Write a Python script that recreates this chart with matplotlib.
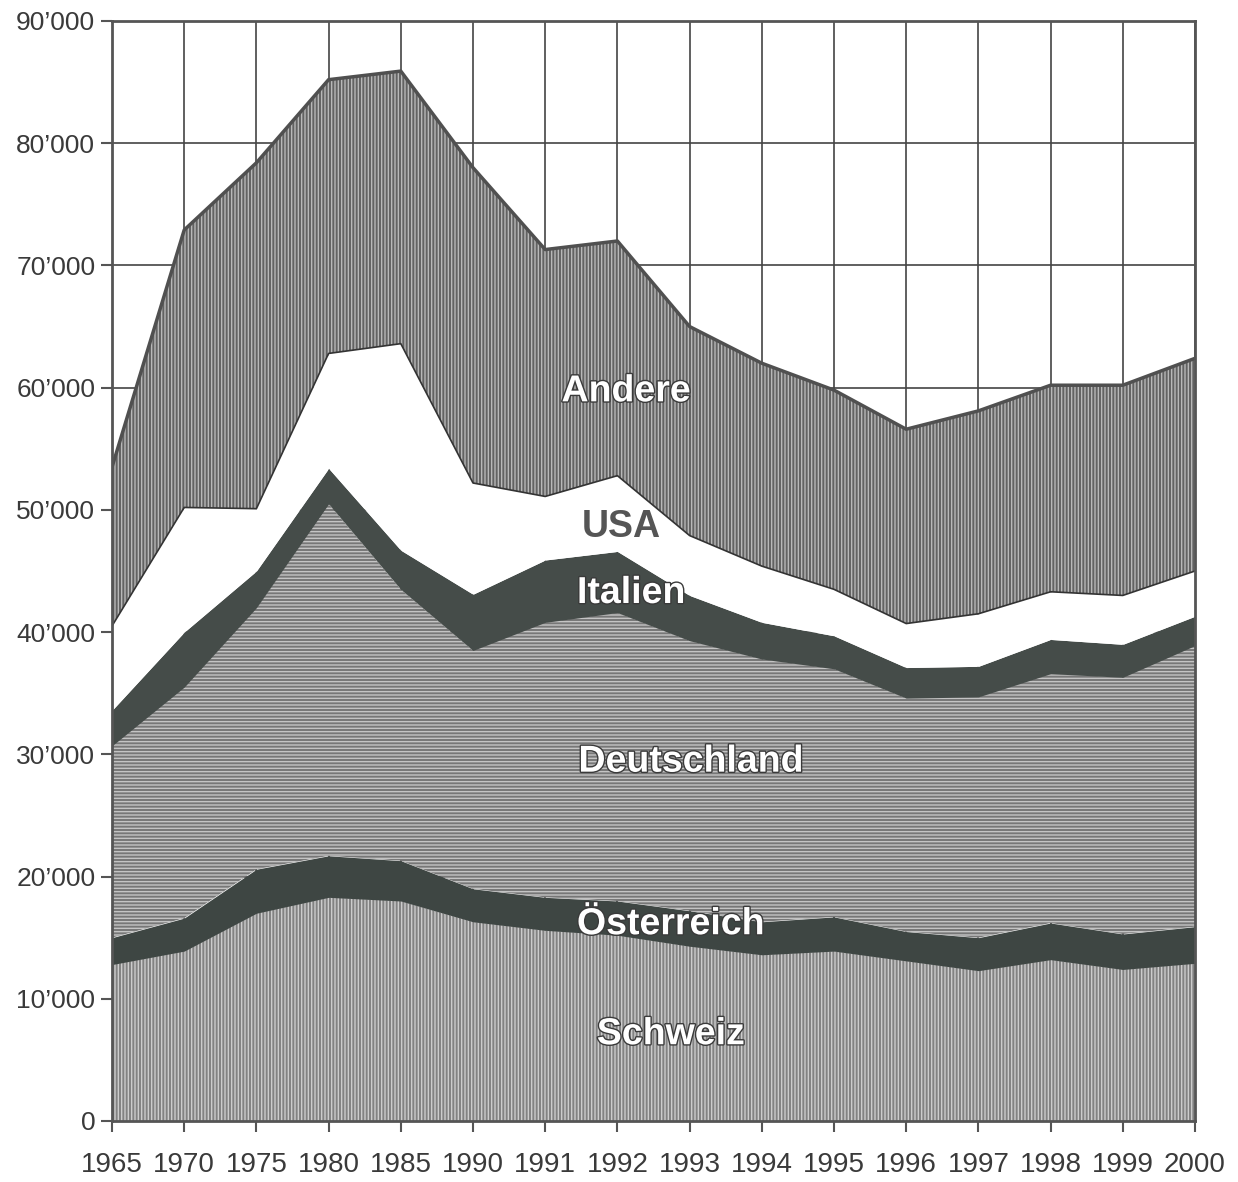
import numpy as np
import matplotlib
matplotlib.use("Agg")
import matplotlib.pyplot as plt
import matplotlib.patheffects as pe
from matplotlib.ticker import FuncFormatter

years = ["1965", "1970", "1975", "1980", "1985", "1990", "1991", "1992",
         "1993", "1994", "1995", "1996", "1997", "1998", "1999", "2000"]

schweiz     = [12800, 13900, 17000, 18300, 18000, 16300, 15600, 15200, 14300, 13600, 13900, 13100, 12300, 13200, 12400, 12900]
oesterreich = [2200, 2700, 3600, 3400, 3300, 2700, 2700, 2800, 2900, 2700, 2800, 2400, 2700, 3000, 2900, 3000]
deutschland = [15700, 18900, 21400, 28800, 22200, 19500, 22500, 23600, 22100, 21500, 20300, 19100, 19700, 20400, 21000, 23000]
italien     = [2900, 4500, 3000, 2900, 3200, 4600, 5100, 5000, 3700, 3000, 2700, 2500, 2500, 2800, 2700, 2400]
usa         = [6900, 10200, 5100, 9400, 16900, 9100, 5200, 6200, 4900, 4600, 3800, 3600, 4300, 3900, 4000, 3700]
andere      = [13000, 22700, 28300, 22400, 22300, 25800, 20200, 19200, 17100, 16600, 16300, 15900, 16600, 16900, 17200, 17400]

series_names = ["Schweiz", "Österreich", "Deutschland", "Italien", "USA", "Andere"]
series_vals = [schweiz, oesterreich, deutschland, italien, usa, andere]

plt.rcParams['font.family'] = ['Liberation Sans', 'DejaVu Sans']
plt.rcParams['hatch.linewidth'] = 1.0

fig = plt.figure(figsize=(12.38, 11.82), dpi=100)
ax = fig.add_axes([112/1238, 1 - 1121/1182, (1195-112)/1238, 1100/1182])

x = np.arange(len(years))
styles = {
    "Schweiz":     dict(facecolor="#828282", edgecolor="#cccccc", hatch="|||||"),
    "Österreich":  dict(facecolor="#3e4643", edgecolor="#3e4643", hatch=None),
    "Deutschland": dict(facecolor="#777777", edgecolor="#c4c4c4", hatch="-----"),
    "Italien":     dict(facecolor="#454c49", edgecolor="#454c49", hatch=None),
    "USA":         dict(facecolor="#ffffff", edgecolor="#ffffff", hatch=None),
    "Andere":      dict(facecolor="#626262", edgecolor="#b8b8b8", hatch="|||||"),
}

bottom = np.zeros(len(years))
tops = {}
for name, vals in zip(series_names, series_vals):
    top = bottom + np.array(vals)
    st = styles[name]
    ax.fill_between(x, bottom, top, facecolor=st["facecolor"], edgecolor=st["edgecolor"],
                    hatch=st["hatch"], linewidth=0, zorder=2)
    tops[name] = top
    bottom = top

ax.plot(x, tops["Andere"], color="#505050", lw=2.5, zorder=3)
ax.plot(x, tops["USA"], color="#333333", lw=1.2, zorder=3)

ax.set_xlim(0, len(years) - 1)
ax.set_ylim(0, 90000)
ax.set_xticks(x)
ax.set_xticklabels(years)
ax.set_yticks(np.arange(0, 90001, 10000))
ax.yaxis.set_major_formatter(FuncFormatter(lambda v, p: "0" if v == 0 else f"{int(v/1000)}\u2019000"))
ax.grid(True, color="#444444", lw=1.2, zorder=0)
ax.set_axisbelow(True)
for s in ax.spines.values():
    s.set_color("#555555")
    s.set_linewidth(2)
    s.set_zorder(4)
ax.tick_params(axis='both', colors="#555555", labelcolor="#3a3a3a", labelsize=19,
               length=8, width=1.5, direction='out')
ax.tick_params(axis='x', pad=14, labelsize=20)
ax.tick_params(axis='y', pad=4)

outline = [pe.withStroke(linewidth=2, foreground="#3a3a3a")]
lab = dict(fontsize=27, fontweight='bold', ha='center', va='center', zorder=5)
ax.text(7.12, 59700, "Andere", color="white", path_effects=outline, **lab)
ax.text(7.05, 48600, "USA", color="#555555", **lab)
ax.text(7.19, 43200, "Italien", color="white", path_effects=outline, **lab)
ax.text(8.02, 29400, "Deutschland", color="white", path_effects=outline, **lab)
ax.text(7.74, 16100, "Österreich", color="white", path_effects=outline, **lab)
ax.text(7.74, 7100, "Schweiz", color="white", path_effects=outline, **lab)

fig.savefig("out.png", dpi=100)
